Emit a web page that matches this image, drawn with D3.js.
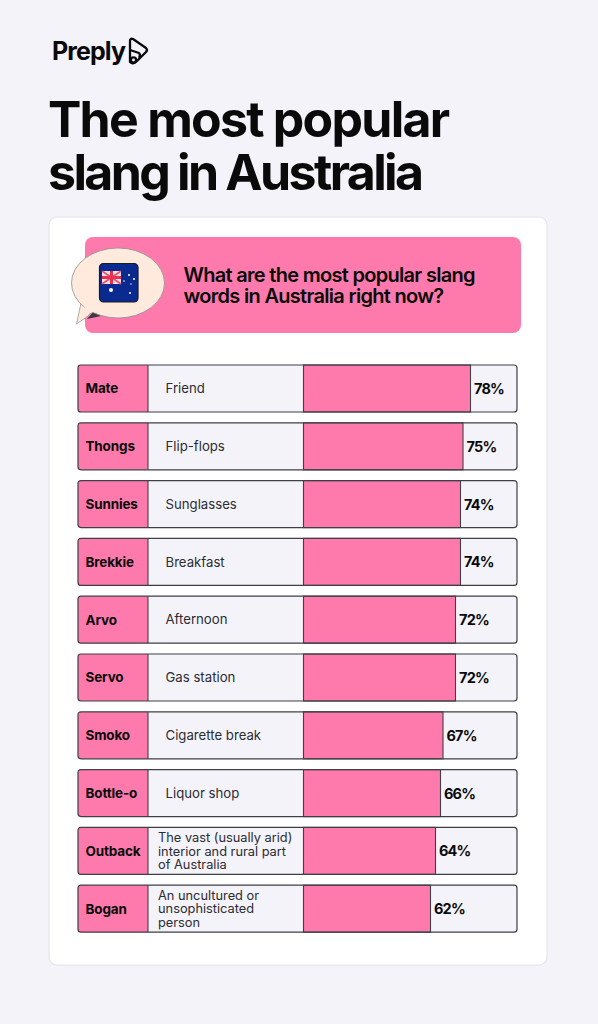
<!DOCTYPE html>
<html><head><meta charset="utf-8">
<script src="https://cdn.jsdelivr.net/npm/d3@7/dist/d3.min.js"></script>
<style>html,body{margin:0;padding:0;background:#f3f3f9}svg{display:block}text{font-family:Inter,sans-serif;fill:#0a0a0a}</style>
</head><body><svg id="c" width="598" height="1024"></svg>
<script>
const slang=["Mate","Thongs","Sunnies","Brekkie","Arvo","Servo","Smoko","Bottle-o","Outback","Bogan"];
const meanings=[["Friend"],["Flip-flops"],["Sunglasses"],["Breakfast"],["Afternoon"],["Gas station"],["Cigarette break"],["Liquor shop"],["The vast (usually arid)","interior and rural part","of Australia"],["An uncultured or","unsophisticated","person"]];
const values=[78,75,74,74,72,72,67,66,64,62];
const titleLines=["The most popular","slang in Australia"];
const questionLines=["What are the most popular slang","words in Australia right now?"];
const PINK="#ff7aac",BG="#f3f3f9",INK="#3f3f47";
const svg=d3.select("#c");
svg.append("rect").attr("width",598).attr("height",1024).attr("fill",BG);
// logo
svg.append("text").attr("x",52).attr("y",60).attr("font-size",25).attr("font-weight",700).attr("letter-spacing",-0.9).text("Preply");
const logo=svg.append("g").attr("fill","none").attr("stroke","#0a0a0a").attr("stroke-width",2.3).attr("stroke-linejoin","round");
logo.append("path").attr("d","M130 41 Q130 38 133 39 L146 48 Q148 50 146 52 L137 61 Q133 65 130 62 Z");
logo.append("path").attr("d","M130 50 L139 53 Q141 55 139 58");
logo.append("circle").attr("cx",133.5).attr("cy",60).attr("r",2.6);
// title
svg.append("text").attr("font-size",50).attr("font-weight",700).selectAll("tspan").data(titleLines).join("tspan").attr("x",48).attr("y",(d,i)=>137+i*53)
 .attr("letter-spacing",(d,i)=>i?-2.6:-1.75).attr("word-spacing",(d,i)=>i?-0.5:0).text(d=>d);
// card
svg.append("rect").attr("x",49).attr("y",217).attr("width",498).attr("height",748).attr("rx",8).attr("fill","#fff").attr("stroke","#e4e4ec").attr("stroke-width",1.2);
// banner
svg.append("rect").attr("x",85).attr("y",237).attr("width",436).attr("height",96).attr("rx",8).attr("fill",PINK);
svg.append("path").attr("d","M87 319 L95 310 L101 316 Z").attr("fill","#3a3a42");
svg.append("path").attr("d","M81 303 L76.5 324 L88 316 L94 308 Z").attr("fill","#ffeadd").attr("stroke","#9a9a9a").attr("stroke-width",.8);
svg.append("ellipse").attr("cx",118).attr("cy",283).attr("rx",46.5).attr("ry",35).attr("fill","#ffeadd").attr("stroke","#8f8f8f").attr("stroke-width",.8);
svg.append("path").attr("d","M82 302 L88 314 L98 310 Z").attr("fill","#ffeadd");
// flag
const f=svg.append("g");
f.append("rect").attr("x",99.5).attr("y",263.5).attr("width",38.5).attr("height",38.5).attr("rx",4).attr("fill","#0b2a8f").attr("stroke","#1a1a22").attr("stroke-width",1.2);
f.append("rect").attr("x",102).attr("y",271).attr("width",19).attr("height",13).attr("fill","#f6dfe4");
f.append("path").attr("d","M102 271 L121 284 M121 271 L102 284").attr("stroke","#e2536f").attr("stroke-width",1.6);
f.append("path").attr("d","M111.5 271 V284 M102 277.5 H121").attr("stroke","#e8324f").attr("stroke-width",3);
f.selectAll("circle").data([[111,290,2],[129,275,1],[134,279,1],[130,293,1],[124,281,.8],[131,284,.7]]).join("circle")
 .attr("cx",d=>d[0]).attr("cy",d=>d[1]).attr("r",d=>d[2]).attr("fill","#fff");
// question
svg.append("text").attr("font-size",20).attr("font-weight",600).attr("letter-spacing",-0.7).selectAll("tspan").data(questionLines).join("tspan").attr("x",183.5).attr("y",(d,i)=>282+i*20.5).text(d=>d);
// rows
const y=d3.scaleBand().domain(slang).range([365,932.2]).paddingInner(0.187);
const x=d3.scaleLinear().domain([11.2,78]).range([303.5,470.5]);
const L=78,R=517,C1=148,h=y.bandwidth();
const rows=svg.append("g").selectAll("g").data(slang).join("g").attr("transform",d=>`translate(0,${y(d)})`);
const rr=(x0,x1,ro)=>`M${x0+ro} 0H${x1-ro}Q${x1} 0 ${x1} ${ro}V${h-ro}Q${x1} ${h} ${x1-ro} ${h}H${x0+ro}Q${x0} ${h} ${x0} ${h-ro}V${ro}Q${x0} 0 ${x0+ro} 0Z`;
rows.append("path").attr("d",rr(L,R,3)).attr("fill",BG);
rows.append("path").attr("d",`M${C1} 0H${L+3}Q${L} 0 ${L} 3V${h-3}Q${L} ${h} ${L+3} ${h}H${C1}Z`).attr("fill",PINK);
rows.append("rect").attr("x",x.range()[0]).attr("y",0).attr("height",h).attr("width",(d,i)=>x(values[i])-x.range()[0]).attr("fill",PINK).attr("stroke",INK).attr("stroke-width",1.1);
rows.append("line").attr("x1",C1).attr("x2",C1).attr("y1",0).attr("y2",h).attr("stroke",INK).attr("stroke-width",1.1);
rows.append("path").attr("d",rr(L,R,3)).attr("fill","none").attr("stroke",INK).attr("stroke-width",1.2);
rows.append("text").attr("x",85.5).attr("y",h/2+5).attr("font-size",13.5).attr("font-weight",700).attr("letter-spacing",-0.15).text(d=>d);
rows.append("text").attr("font-size",(d,i)=>meanings[i].length>1?12.8:13.2).style("fill","#2c2c33")
 .each(function(d,i){
  const ls=meanings[i];
  d3.select(this).selectAll("tspan").data(ls).join("tspan").attr("x",ls.length>1?158:165.5)
   .attr("y",(t,k)=>h/2+4.8+(k-(ls.length-1)/2)*13.5).text(t=>t);
 });
rows.append("text").attr("x",(d,i)=>x(values[i])+3.5).attr("y",h/2+5.5).attr("font-size",14.5).attr("font-weight",700).attr("letter-spacing",-0.8).text((d,i)=>values[i]+"%");
</script></body></html>
